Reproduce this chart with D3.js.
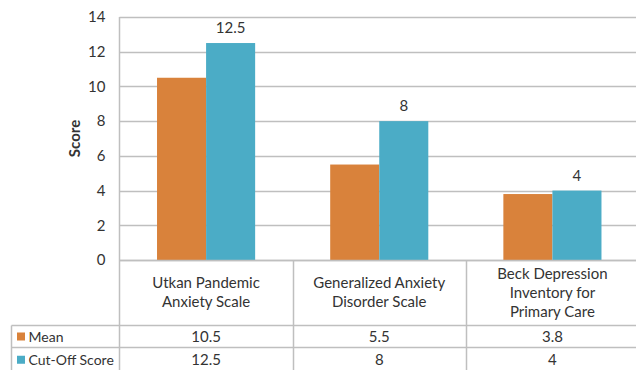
<!DOCTYPE html>
<html>
<head>
<meta charset="utf-8">
<script src="https://cdn.jsdelivr.net/npm/d3@7"></script>
<style>
  html, body { margin: 0; padding: 0; background: #fff; }
  svg { display: block; font-family: Lato, "Open Sans", sans-serif; }
</style>
</head>
<body>
<svg id="chart" width="636" height="370"></svg>
<script>
// Scores per scale
const categories = [
  ["Utkan Pandemic", "Anxiety Scale"],
  ["Generalized Anxiety", "Disorder Scale"],
  ["Beck Depression", "Inventory for", "Primary Care"]
];
const seriesNames = ["Mean", "Cut-Off Score"];
const meanValues = [10.5, 5.5, 3.8];
const cutOffValues = [12.5, 8, 4];
const cutOffLabels = ["12.5", "8", "4"];
const yTicks = [0, 2, 4, 6, 8, 10, 12, 14];
const colors = ["#D9823B", "#4BACC6"];

const svg = d3.select("#chart");
const plotLeft = 119.5, plotRight = 639, plotTop = 17, plotBottom = 260;
const tableLeft = 11.5, rowTop1 = 325.5, rowTop2 = 347.5, tableBottom = 372;
const gridColor = "#BFBFBF";
const textColor = "#333333";
const fs = 15;

const catIdx = categories.map((d, i) => i);
const x = d3.scaleBand().domain(catIdx).range([plotLeft, plotRight]);
const xs = d3.scaleBand().domain(seriesNames).range([0, x.bandwidth()])
  .paddingInner(0).paddingOuter(0.765);
const y = d3.scaleLinear().domain([0, 14]).range([plotBottom, plotTop]);

// gridlines
svg.append("g").selectAll("line").data(yTicks).join("line")
  .attr("x1", plotLeft).attr("x2", 636)
  .attr("y1", d => Math.round(y(d)) + 0.5).attr("y2", d => Math.round(y(d)) + 0.5)
  .attr("stroke", gridColor).attr("stroke-width", 1.5);

// y axis tick labels
const yAxis = d3.axisLeft(y).tickValues(yTicks).tickSize(0).tickPadding(14);
const ya = svg.append("g").attr("transform", `translate(${plotLeft},0)`).call(yAxis);
ya.select(".domain").remove();
ya.selectAll("text").attr("font-size", fs).attr("fill", textColor)
  .attr("font-family", "Lato, 'Open Sans', sans-serif");

svg.append("text")
  .attr("transform", `translate(80,${(plotTop + plotBottom) / 2}) rotate(-90)`)
  .attr("text-anchor", "middle").attr("font-size", fs).attr("font-weight", "bold")
  .attr("fill", textColor).text("Score");

// bars
const seriesData = [meanValues, cutOffValues];
const groups = svg.append("g").selectAll("g").data(catIdx).join("g")
  .attr("transform", d => `translate(${x(d)},0)`);
groups.selectAll("rect")
  .data(i => seriesNames.map((s, k) => ({ s, k, v: seriesData[k][i] })))
  .join("rect")
  .attr("x", d => xs(d.s)).attr("width", xs.bandwidth())
  .attr("y", d => y(d.v)).attr("height", d => y(0) - y(d.v))
  .attr("fill", d => colors[d.k]);

// value labels on cut-off bars
svg.append("g").selectAll("text").data(catIdx).join("text")
  .attr("x", i => x(i) + xs("Cut-Off Score") + xs.bandwidth() / 2)
  .attr("y", i => y(cutOffValues[i]) - 10)
  .attr("text-anchor", "middle").attr("font-size", fs).attr("fill", textColor)
  .text(i => cutOffLabels[i]);

// data table lines
const tl = svg.append("g").attr("stroke", gridColor).attr("stroke-width", 1.5);
tl.append("line").attr("x1", plotLeft).attr("x2", 636).attr("y1", plotBottom + 0.5).attr("y2", plotBottom + 0.5);
tl.append("line").attr("x1", tableLeft).attr("x2", 636).attr("y1", rowTop1).attr("y2", rowTop1);
tl.append("line").attr("x1", tableLeft).attr("x2", 636).attr("y1", rowTop2).attr("y2", rowTop2);
tl.append("line").attr("x1", tableLeft).attr("x2", tableLeft).attr("y1", rowTop1).attr("y2", tableBottom);
tl.append("line").attr("x1", plotLeft).attr("x2", plotLeft).attr("y1", plotTop).attr("y2", tableBottom);
catIdx.slice(1).forEach(i => {
  const xx = Math.round(x(i)) + 0.5;
  tl.append("line").attr("x1", xx).attr("x2", xx).attr("y1", plotBottom).attr("y2", tableBottom);
});

// category labels
const lineH = 19;
svg.append("g").selectAll("text").data(catIdx).join("text")
  .attr("text-anchor", "middle").attr("font-size", fs).attr("fill", textColor)
  .each(function (i) {
    const lines = categories[i];
    const mid = (plotBottom + rowTop1) / 2;
    const y0 = mid - (lines.length - 1) * lineH / 2 + 5;
    d3.select(this).selectAll("tspan").data(lines).join("tspan")
      .attr("x", x(i) + x.bandwidth() / 2)
      .attr("y", (d, j) => y0 + j * lineH)
      .text(d => d);
  });

// table rows: legend key + values
const rowMid = [(rowTop1 + rowTop2) / 2, (rowTop2 + 370) / 2 + 1];
seriesNames.forEach((s, k) => {
  const g = svg.append("g");
  g.append("rect").attr("x", 17).attr("y", rowMid[k] - 4).attr("width", 8).attr("height", 8)
    .attr("fill", colors[k]);
  g.append("text").attr("x", 28.5).attr("y", rowMid[k] + 5)
    .attr("font-size", 14).attr("fill", textColor).text(s);
  g.selectAll("text.v").data(catIdx).join("text").attr("class", "v")
    .attr("x", i => x(i) + x.bandwidth() / 2).attr("y", rowMid[k] + 5)
    .attr("text-anchor", "middle").attr("font-size", fs).attr("fill", textColor)
    .text(i => String(seriesData[k][i]));
});
</script>
</body>
</html>
